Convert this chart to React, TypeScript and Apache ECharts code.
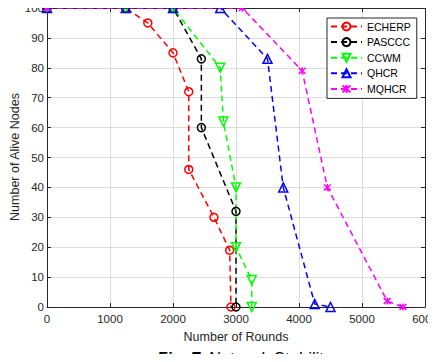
import React, { useEffect, useRef } from "react";
import * as echarts from "echarts";

// Rounds (x) and alive nodes (y) for each protocol
const echerpRounds = [0, 1250, 1600, 2000, 2250, 2250, 2650, 2900, 2920];
const echerpAlive = [100, 100, 95, 85, 72, 46, 30, 19, 0];

const pascccRounds = [0, 1250, 2000, 2450, 2450, 3000, 3000];
const pascccAlive = [100, 100, 100, 83, 60, 32, 0];

const ccwmRounds = [0, 1250, 2000, 2750, 2800, 3000, 3000, 3250, 3250];
const ccwmAlive = [100, 100, 100, 80, 62, 40, 20, 9, 0];

const qhcrRounds = [0, 1250, 2000, 2750, 3500, 3750, 4250, 4500];
const qhcrAlive = [100, 100, 100, 100, 83, 40, 1, 0];

const mqhcrRounds = [0, 3100, 4050, 4450, 5400, 5650];
const mqhcrAlive = [100, 100, 79, 40, 2, 0];

const xTicks = [0, 1000, 2000, 3000, 4000, 5000, 6000];

const FONT = "Liberation Sans, Arial, sans-serif";
const AXIS = "#262626";

const pairs = (xs: number[], ys: number[]) => xs.map((x, i) => [x, ys[i]]);

const TRI_DOWN = "path://M0,0L10,0L5,9Z";
const ASTERISK = "path://M0,0L10,10M10,0L0,10M5,-1L5,11";

function makeSeries(
  name: string,
  xs: number[],
  ys: number[],
  color: string,
  symbol: string,
  size: number
) {
  return {
    name,
    type: "line",
    data: pairs(xs, ys),
    symbol,
    symbolSize: size,
    showAllSymbol: true,
    lineStyle: { color, width: 1.5, type: [6, 4] },
    itemStyle: { color: "rgba(255,255,255,0)", borderColor: color, borderWidth: 1.5 },
    emphasis: { disabled: true },
    z: 3,
  };
}

export default function App() {
  const ref = useRef<HTMLDivElement>(null);

  useEffect(() => {
    if (!ref.current) return;
    const chart = echarts.init(ref.current, null, { renderer: "svg" });
    const split = { show: true, lineStyle: { color: "#dcdcdc", width: 1 } };
    const tick = { show: true, inside: true, length: 4, lineStyle: { color: AXIS } };
    chart.setOption({
      animation: false,
      backgroundColor: "#ffffff",
      textStyle: { fontFamily: FONT },
      grid: {
        left: 47,
        top: 8,
        right: 11,
        bottom: 55,
        containLabel: false,
        outerBoundsMode: "none",
      },
      legend: {
        left: 327,
        top: 18,
        orient: "vertical",
        itemWidth: 31,
        itemHeight: 10,
        itemGap: 4.6,
        padding: [3, 6, 4, 3],
        backgroundColor: "#ffffff",
        borderColor: AXIS,
        borderWidth: 1,
        textStyle: { fontSize: 10.5, color: "#000", fontFamily: FONT },
        data: ["ECHERP", "PASCCC", "CCWM", "QHCR", "MQHCR"],
      },
      xAxis: [
        {
          type: "value",
          min: 0,
          max: 6000,
          interval: 1000,
          name: "Number of Rounds",
          nameLocation: "middle",
          nameGap: 23,
          nameTextStyle: { fontSize: 12.5, color: AXIS, fontFamily: FONT },
          axisLine: { show: true, onZero: false, lineStyle: { color: AXIS } },
          axisTick: tick,
          axisLabel: {
            fontSize: 11.5,
            color: AXIS,
            margin: 6,
            formatter: (v: number) => (xTicks.includes(v) ? String(v) : ""),
          },
          splitLine: split,
        },
        {
          type: "value",
          position: "top",
          min: 0,
          max: 6000,
          interval: 1000,
          axisLine: { show: true, onZero: false, lineStyle: { color: AXIS } },
          axisTick: tick,
          axisLabel: { show: false },
          splitLine: { show: false },
        },
      ],
      yAxis: [
        {
          type: "value",
          min: 0,
          max: 100,
          interval: 10,
          axisLine: { show: true, onZero: false, lineStyle: { color: AXIS } },
          axisTick: tick,
          axisLabel: { fontSize: 11.5, color: AXIS, margin: 3 },
          splitLine: split,
        },
        {
          type: "value",
          position: "right",
          min: 0,
          max: 100,
          interval: 10,
          axisLine: { show: true, onZero: false, lineStyle: { color: AXIS } },
          axisTick: tick,
          axisLabel: { show: false },
          splitLine: { show: false },
        },
      ],
      series: [
        makeSeries("ECHERP", echerpRounds, echerpAlive, "#ff0000", "circle", 8),
        makeSeries("PASCCC", pascccRounds, pascccAlive, "#000000", "circle", 8),
        makeSeries("CCWM", ccwmRounds, ccwmAlive, "#00ff00", TRI_DOWN, 9),
        makeSeries("QHCR", qhcrRounds, qhcrAlive, "#0000ff", "triangle", 9),
        makeSeries("MQHCR", mqhcrRounds, mqhcrAlive, "#ff00ff", ASTERISK, 7),
      ],
      graphic: [
        {
          // vertical axis title
          type: "text",
          x: 15,
          y: 157,
          rotation: Math.PI / 2,
          style: {
            text: "Number of Alive Nodes",
            fontSize: 12.5,
            fontFamily: FONT,
            fill: AXIS,
            align: "center",
            verticalAlign: "middle",
          },
        },
        {
          type: "text",
          left: 157,
          top: 349,
          style: {
            text: "{b|Fig. 7.} {i|Network Stability}",
            rich: {
              b: { fontSize: 16.5, fontWeight: "bold", fontStyle: "italic", fontFamily: FONT, fill: "#000" },
              i: { fontSize: 16.5, fontStyle: "italic", fontFamily: FONT, fill: "#000" },
            },
          },
        },
      ],
    });
    return () => chart.dispose();
  }, []);

  return <div ref={ref} style={{ width: 436, height: 362, margin: -8 }} />;
}
